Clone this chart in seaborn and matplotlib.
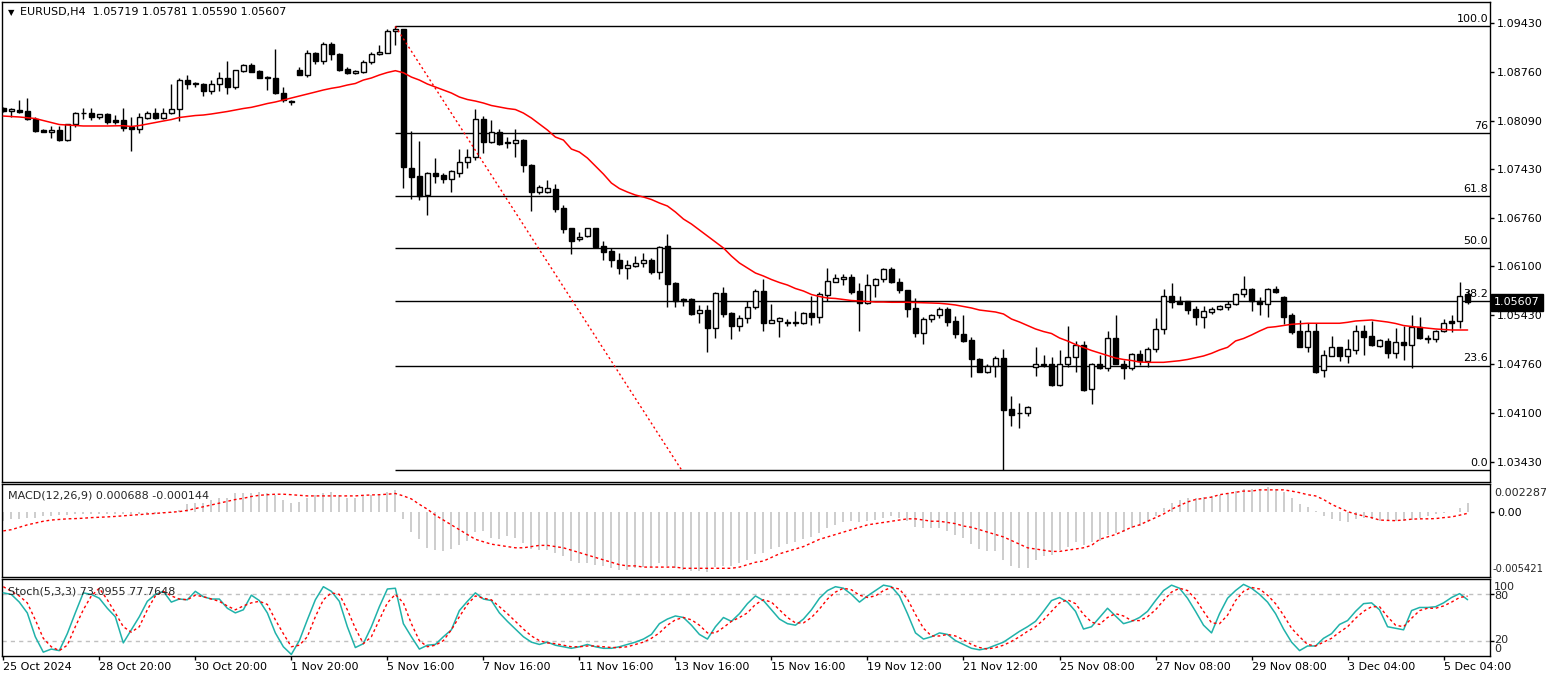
import numpy as np
import pandas as pd
import matplotlib
matplotlib.use("Agg")
import matplotlib.pyplot as plt
import matplotlib.transforms as mtransforms
import seaborn as sns

# ---------------- data (EURUSD H4) ----------------
open_ = [1.0826,1.0822,1.0824,1.0822,1.0812,1.0796,1.0793,1.0796,1.0782,1.0804,
         1.0819,1.0819,1.0814,1.0818,1.0810,1.0810,1.0800,1.0797,1.0813,1.0819,
         1.0813,1.0819,1.0825,1.0865,1.0861,1.0859,1.0849,1.0859,1.0868,1.0855,
         1.0877,1.0885,1.0877,1.0869,1.0868,1.0847,1.0836,1.0879,1.0872,1.0901,
         1.0891,1.0914,1.0900,1.0880,1.0874,1.0875,1.0889,1.0900,1.0902,1.0931,
         1.0934,1.0745,1.0733,1.0707,1.0737,1.0735,1.0730,1.0738,1.0752,1.0759,
         1.0811,1.0780,1.0794,1.0780,1.0779,1.0783,1.0749,1.0712,1.0711,1.0716,
         1.0689,1.0662,1.0647,1.0651,1.0662,1.0638,1.0631,1.0619,1.0607,1.0611,
         1.0615,1.0619,1.0602,1.0638,1.0587,1.0565,1.0565,1.0546,1.0550,1.0526,
         1.0573,1.0546,1.0528,1.0539,1.0555,1.0576,1.0533,1.0535,1.0534,1.0534,
         1.0532,1.0546,1.0541,1.0571,1.0589,1.0593,1.0595,1.0576,1.0560,1.0585,
         1.0592,1.0606,1.0588,1.0577,1.0553,1.0519,1.0538,1.0544,1.0551,1.0535,
         1.0518,1.0509,1.0483,1.0466,1.0473,1.0484,1.0415,1.0409,1.0409,1.0472,
         1.0477,1.0476,1.0448,1.0477,1.0486,1.0503,1.0442,1.0476,1.0471,1.0512,
         1.0477,1.0471,1.0490,1.0480,1.0497,1.0524,1.0569,1.0562,1.0562,1.0551,
         1.0540,1.0548,1.0551,1.0555,1.0558,1.0572,1.0579,1.0562,1.0559,1.0579,
         1.0568,1.0543,1.0522,1.0500,1.0522,1.0468,1.0488,1.0499,1.0488,1.0496,
         1.0522,1.0515,1.0501,1.0508,1.0491,1.0507,1.0503,1.0527,1.0512,1.0511,
         1.0522,1.0535,1.0535,1.05719]
high_ = [1.0828,1.0827,1.0837,1.0840,1.0814,1.0797,1.0802,1.0802,1.0805,1.0821,
         1.0827,1.0826,1.0818,1.0819,1.0817,1.0827,1.0814,1.0819,1.0822,1.0827,
         1.0827,1.0859,1.0867,1.0871,1.0862,1.0860,1.0865,1.0876,1.0890,1.0879,
         1.0887,1.0888,1.0878,1.0870,1.0907,1.0855,1.0838,1.0883,1.0905,1.0903,
         1.0916,1.0916,1.0901,1.0882,1.0878,1.0892,1.0903,1.0913,1.0935,1.0938,
         1.0935,1.0795,1.0781,1.0739,1.0758,1.0738,1.0742,1.0770,1.0771,1.0825,
         1.0816,1.0810,1.0797,1.0787,1.0798,1.0784,1.0750,1.0721,1.0728,1.0722,
         1.0694,1.0663,1.0657,1.0663,1.0663,1.0645,1.0635,1.0628,1.0618,1.0624,
         1.0628,1.0621,1.0638,1.0654,1.0588,1.0567,1.0567,1.0557,1.0557,1.0575,
         1.0581,1.0548,1.0544,1.0562,1.0579,1.0592,1.0559,1.0541,1.0538,1.0549,
         1.0548,1.0570,1.0575,1.0607,1.0600,1.0600,1.0600,1.0587,1.0599,1.0594,
         1.0608,1.0609,1.0594,1.0578,1.0566,1.0540,1.0545,1.0554,1.0554,1.0542,
         1.0543,1.0513,1.0484,1.0476,1.0487,1.0497,1.0433,1.0423,1.0419,1.0500,
         1.0489,1.0486,1.0496,1.0528,1.0508,1.0508,1.0478,1.0489,1.0521,1.0543,
         1.0482,1.0491,1.0496,1.0499,1.0539,1.0579,1.0587,1.0569,1.0563,1.0556,
         1.0556,1.0555,1.0557,1.0562,1.0574,1.0597,1.0580,1.0568,1.0580,1.0583,
         1.0569,1.0546,1.0537,1.0532,1.0532,1.0496,1.0515,1.0500,1.0511,1.0530,
         1.0530,1.0535,1.0511,1.0512,1.0525,1.0528,1.0543,1.0541,1.0516,1.0523,
         1.0538,1.0544,1.0589,1.05781]
low_ = [1.0821,1.0814,1.0820,1.0810,1.0793,1.0793,1.0786,1.0781,1.0781,1.0800,
        1.0811,1.0810,1.0811,1.0805,1.0804,1.0795,1.0768,1.0792,1.0812,1.0812,
        1.0812,1.0818,1.0808,1.0853,1.0855,1.0843,1.0846,1.0850,1.0846,1.0852,
        1.0876,1.0875,1.0867,1.0851,1.0846,1.0834,1.0831,1.0871,1.0869,1.0887,
        1.0887,1.0892,1.0877,1.0873,1.0873,1.0874,1.0887,1.0899,1.0901,1.0912,
        1.0717,1.0702,1.0700,1.0680,1.0724,1.0724,1.0711,1.0732,1.0745,1.0755,
        1.0765,1.0779,1.0776,1.0772,1.0760,1.0739,1.0686,1.0709,1.0710,1.0684,
        1.0655,1.0627,1.0644,1.0650,1.0636,1.0619,1.0609,1.0599,1.0593,1.0609,
        1.0609,1.0599,1.0592,1.0554,1.0555,1.0556,1.0543,1.0532,1.0493,1.0512,
        1.0541,1.0510,1.0522,1.0532,1.0551,1.0521,1.0532,1.0514,1.0528,1.0528,
        1.0531,1.0530,1.0533,1.0563,1.0588,1.0584,1.0572,1.0521,1.0558,1.0568,
        1.0589,1.0587,1.0574,1.0540,1.0514,1.0504,1.0534,1.0539,1.0528,1.0512,
        1.0507,1.0459,1.0465,1.0464,1.0459,1.0331,1.0392,1.0389,1.0406,1.0460,
        1.0472,1.0447,1.0446,1.0472,1.0465,1.0440,1.0422,1.0470,1.0467,1.0476,
        1.0456,1.0468,1.0475,1.0472,1.0493,1.0518,1.0553,1.0558,1.0545,1.0530,
        1.0525,1.0545,1.0550,1.0550,1.0557,1.0568,1.0549,1.0543,1.0540,1.0574,
        1.0531,1.0518,1.0499,1.0493,1.0464,1.0458,1.0487,1.0480,1.0478,1.0490,
        1.0489,1.0501,1.0500,1.0485,1.0484,1.0482,1.0471,1.0511,1.0505,1.0506,
        1.0520,1.0520,1.0525,1.05590]
close_ = [1.0822,1.0825,1.0821,1.0811,1.0795,1.0794,1.0796,1.0782,1.0804,1.0819,
          1.0820,1.0814,1.0818,1.0807,1.0807,1.0799,1.0797,1.0814,1.0819,1.0813,
          1.0819,1.0825,1.0865,1.0859,1.0859,1.0849,1.0859,1.0868,1.0855,1.0878,
          1.0885,1.0876,1.0868,1.0868,1.0847,1.0837,1.0834,1.0872,1.0901,1.0891,
          1.0914,1.0900,1.0878,1.0874,1.0877,1.0889,1.0900,1.0903,1.0931,1.0934,
          1.0746,1.0732,1.0706,1.0738,1.0734,1.0730,1.0740,1.0752,1.0760,1.0811,
          1.0780,1.0794,1.0777,1.0778,1.0783,1.0748,1.0712,1.0718,1.0717,1.0688,
          1.0661,1.0645,1.0650,1.0662,1.0637,1.0630,1.0618,1.0607,1.0612,1.0615,
          1.0619,1.0602,1.0636,1.0586,1.0563,1.0563,1.0545,1.0550,1.0526,1.0573,
          1.0545,1.0528,1.0539,1.0555,1.0576,1.0533,1.0536,1.0539,1.0532,1.0532,
          1.0546,1.0540,1.0572,1.0590,1.0594,1.0596,1.0575,1.0560,1.0585,1.0592,
          1.0606,1.0588,1.0577,1.0552,1.0519,1.0538,1.0544,1.0551,1.0534,1.0517,
          1.0508,1.0483,1.0466,1.0474,1.0484,1.0414,1.0407,1.0410,1.0417,1.0477,
          1.0475,1.0448,1.0477,1.0486,1.0503,1.0441,1.0476,1.0471,1.0512,1.0477,
          1.0471,1.0490,1.0480,1.0497,1.0524,1.0569,1.0561,1.0559,1.0550,1.0540,
          1.0549,1.0551,1.0556,1.0558,1.0572,1.0579,1.0562,1.0559,1.0579,1.0575,
          1.0541,1.0520,1.0500,1.0522,1.0466,1.0489,1.0500,1.0488,1.0497,1.0522,
          1.0514,1.0503,1.0509,1.0492,1.0507,1.0503,1.0527,1.0512,1.0511,1.0521,
          1.0533,1.0533,1.0570,1.05607]
ma_ = [1.08154,1.08147,1.08141,1.08131,1.08120,1.08093,1.08065,1.08038,1.08031,1.08024,
       1.08018,1.08018,1.08018,1.08018,1.08020,1.08022,1.08011,1.08024,1.08045,1.08065,
       1.08086,1.08106,1.08134,1.08147,1.08161,1.08168,1.08182,1.08199,1.08216,1.08236,
       1.08257,1.08273,1.08298,1.08325,1.08346,1.08373,1.08400,1.08428,1.08455,1.08482,
       1.08510,1.08533,1.08551,1.08578,1.08599,1.08646,1.08674,1.08715,1.08749,1.08774,
       1.08746,1.08687,1.08646,1.08592,1.08551,1.08510,1.08469,1.08414,1.08380,1.08359,
       1.08332,1.08298,1.08277,1.08257,1.08243,1.08195,1.08127,1.08045,1.07963,1.07867,
       1.07826,1.07703,1.07662,1.07580,1.07471,1.07361,1.07238,1.07163,1.07115,1.07074,
       1.07047,1.07013,1.06965,1.06924,1.06842,1.06746,1.06678,1.06596,1.06514,1.06432,
       1.06350,1.06240,1.06145,1.06076,1.06008,1.05967,1.05919,1.05878,1.05844,1.05796,
       1.05762,1.05714,1.05687,1.05666,1.05660,1.05646,1.05632,1.05625,1.05619,1.05612,
       1.05612,1.05608,1.05608,1.05608,1.05605,1.05601,1.05598,1.05594,1.05584,1.05571,
       1.05550,1.05530,1.05502,1.05489,1.05475,1.05448,1.05379,1.05338,1.05290,1.05243,
       1.05208,1.05181,1.05120,1.05079,1.05031,1.04990,1.04949,1.04915,1.04880,1.04846,
       1.04826,1.04812,1.04791,1.04787,1.04787,1.04787,1.04798,1.04809,1.04826,1.04850,
       1.04874,1.04910,1.04956,1.04992,1.05079,1.05113,1.05161,1.05215,1.05263,1.05274,
       1.05290,1.05307,1.05314,1.05321,1.05321,1.05321,1.05321,1.05321,1.05334,1.05352,
       1.05359,1.05366,1.05352,1.05338,1.05318,1.05290,1.05277,1.05266,1.05256,1.05243,
       1.05236,1.05229,1.05229,1.05229]
macd_main = [-0.0008,-0.0006,-0.0006,-0.0005,-0.0005,-0.0004,-0.0004,-0.0003,-0.0003,-0.0002,
             -0.0002,-0.0002,-0.0002,-0.0002,-0.0002,-0.0002,-0.0002,-0.0002,-0.0002,-0.0002,
             -0.0001,-0.0001,0.0001,0.0006,0.00075,0.00075,0.0010,0.00115,0.00115,0.0015,
             0.0015,0.00155,0.0016,0.00155,0.0014,0.0010,0.00075,0.0008,0.00115,0.0014,
             0.00155,0.0016,0.0014,0.00115,0.00115,0.0013,0.0014,0.0014,0.0016,0.00177,
             -0.0006,-0.0017,-0.0023,-0.0030,-0.0032,-0.0033,-0.0031,-0.0028,-0.0024,-0.0017,
             -0.0016,-0.0022,-0.0023,-0.0020,-0.0022,-0.0026,-0.0031,-0.0032,-0.0032,-0.0034,
             -0.0037,-0.0041,-0.0043,-0.0043,-0.0044,-0.0045,-0.0047,-0.0048,-0.0048,-0.0047,
             -0.0046,-0.0046,-0.0043,-0.0045,-0.0047,-0.0048,-0.0049,-0.0049,-0.0050,-0.0046,
             -0.0045,-0.0045,-0.0043,-0.0040,-0.0035,-0.0034,-0.0031,-0.0029,-0.0027,-0.0025,
             -0.0023,-0.0021,-0.0018,-0.0014,-0.0011,-0.0009,-0.0008,-0.0009,-0.0008,-0.0007,
             -0.0005,-0.0004,-0.0005,-0.0008,-0.0013,-0.0014,-0.0014,-0.0014,-0.0016,-0.0019,
             -0.0022,-0.0027,-0.0031,-0.0033,-0.0033,-0.0040,-0.0045,-0.0047,-0.0047,-0.0040,
             -0.0037,-0.0036,-0.0032,-0.0029,-0.0025,-0.0028,-0.0025,-0.0024,-0.0019,-0.0018,
             -0.0017,-0.0014,-0.0012,-0.0009,-0.0004,0.0003,0.0007,0.0010,0.0011,0.0011,
             0.0012,0.0013,0.0014,0.0015,0.0017,0.0019,0.0019,0.0019,0.0020,0.0019,
             0.0016,0.0011,0.0006,0.0004,0.00005,-0.00036,-0.00058,-0.00077,-0.00086,-0.00058,
             -0.0005,-0.00058,-0.00077,-0.00077,-0.00077,-0.00077,-0.0007,-0.0005,-0.00036,-0.00022,
             -0.00014,-0.00002,0.00033,0.000688]
macd_signal = [-0.0016,-0.0015,-0.0013,-0.0011,-0.00095,-0.0008,-0.0007,-0.00065,-0.0006,-0.00058,
               -0.00055,-0.0005,-0.00047,-0.00044,-0.0004,-0.00035,-0.0003,-0.00025,-0.0002,-0.00015,
               -0.0001,-0.00005,0.0,0.0001,0.00025,0.0004,0.00055,0.0007,0.00085,0.0010,
               0.0011,0.00125,0.00135,0.0014,0.00144,0.00144,0.0014,0.00135,0.0013,0.0013,
               0.0013,0.0013,0.0013,0.0013,0.0013,0.00135,0.00138,0.0014,0.00144,0.0015,
               0.0013,0.00105,0.0006,0.0002,-0.0003,-0.0007,-0.0011,-0.0015,-0.0019,-0.0023,
               -0.0025,-0.0027,-0.0028,-0.0029,-0.0030,-0.0030,-0.0029,-0.0028,-0.0028,-0.0029,
               -0.0030,-0.0032,-0.0034,-0.0036,-0.0038,-0.0040,-0.0042,-0.0044,-0.0045,-0.0045,
               -0.0046,-0.0046,-0.0046,-0.0046,-0.0046,-0.0047,-0.0047,-0.0047,-0.0047,-0.0047,
               -0.0047,-0.0047,-0.0046,-0.0044,-0.0042,-0.0041,-0.0038,-0.0035,-0.0033,-0.0031,
               -0.0029,-0.0026,-0.0023,-0.0021,-0.0019,-0.0017,-0.0015,-0.0013,-0.0011,-0.0010,
               -0.0009,-0.0008,-0.0007,-0.0006,-0.0006,-0.0007,-0.0008,-0.0008,-0.0009,-0.0010,
               -0.0012,-0.0013,-0.0015,-0.0017,-0.0019,-0.0021,-0.0024,-0.0027,-0.0030,-0.0031,
               -0.0032,-0.0033,-0.0033,-0.0032,-0.0031,-0.0030,-0.0028,-0.0023,-0.0021,-0.0019,
               -0.0016,-0.0013,-0.0011,-0.0008,-0.0005,-0.0002,0.0002,0.0005,0.0008,0.0010,
               0.0011,0.0012,0.0014,0.0015,0.0016,0.0017,0.0017,0.0018,0.0018,0.0018,
               0.0018,0.0017,0.00157,0.0014,0.0013,0.0010,0.0006,0.0003,0.0,-0.0002,
               -0.00036,-0.0005,-0.0007,-0.00073,-0.00075,-0.0007,-0.00063,-0.0006,-0.0006,-0.00058,
               -0.0005,-0.00044,-0.0003,-0.000144]
stoch_k = [82,80,70,56,25,5,9,7,29,56,82,80,75,62,51,17,34,51,71,80,
           84,70,74,73,84,77,74,74,62,56,60,79,72,56,30,12,2,20,47,73,
           90,84,71,38,11,16,38,64,87,88,42,25,9,14,15,25,34,59,71,82,
           74,72,56,45,35,25,18,15,18,14,12,10,12,15,12,10,10,12,15,18,
           22,28,42,48,52,50,40,28,22,38,50,45,55,68,78,72,60,48,42,40,
           48,60,75,85,90,88,80,70,78,85,92,90,78,55,30,22,25,30,28,20,
           15,10,8,10,14,18,25,32,38,45,58,72,76,70,58,35,38,50,62,52,
           42,45,50,58,72,85,92,88,75,58,40,30,55,75,85,93,88,80,70,55,
           35,18,7,13,13,23,29,41,46,58,68,69,60,38,36,34,59,63,63,64,
           69,76,81,73.0955]
stoch_d = [90,84,78,69,47,23,12,7,14,38,60,78,88,73,56,38,31,38,60,78,
           84,78,74,73,79,77,74,71,65,60,65,69,71,67,47,29,12,14,25,51,
           73,82,80,60,36,16,25,47,69,80,69,42,20,12,14,20,34,51,67,78,
           75,73,64,55,45,35,26,20,17,16,14,12,12,13,13,12,11,11,12,15,
           18,23,30,40,47,50,47,40,30,30,37,45,50,56,67,73,70,60,50,43,
           43,50,61,74,83,88,86,79,76,78,85,89,87,74,54,36,26,26,28,26,
           21,15,11,9,11,14,19,25,32,38,47,58,69,73,68,54,44,41,50,55,
           52,46,46,51,60,72,83,88,85,74,58,43,42,53,72,84,89,87,79,68,
           53,36,25,15,13,18,23,31,38,49,58,64,64,51,40,38,49,59,62,62,
           65,70,76,77.7648]
date_labels = ["25 Oct 2024", "28 Oct 20:00", "30 Oct 20:00", "1 Nov 20:00", "5 Nov 16:00",
               "7 Nov 16:00", "11 Nov 16:00", "13 Nov 16:00", "15 Nov 16:00", "19 Nov 12:00",
               "21 Nov 12:00", "25 Nov 08:00", "27 Nov 08:00", "29 Nov 08:00", "3 Dec 04:00",
               "5 Dec 04:00"]
price_ticks = [1.09430, 1.08760, 1.08090, 1.07430, 1.06760, 1.06100, 1.05430, 1.04760, 1.04100, 1.03430]
fib_labels = ["0.0", "23.6", "38.2", "50.0", "61.8", "76", "100.0"]
fib_ratios = [0.0, 23.6, 38.2, 50.0, 61.8, 76.0, 100.0]
fib_high, fib_low = 1.0938, 1.0331
fib_start_bar, fib_end_bar = 49, 84.8
macd_top, macd_bottom = 0.002287, -0.005421

# ---------------- figure ----------------
sns.set_theme(style="white")
plt.rcParams['font.family'] = ['DejaVu Sans']
W, H = 1546, 682
fig = plt.figure(figsize=(W / 100, H / 100), dpi=100)
fig.patch.set_facecolor('white')


def rect(top, bottom, left=2, right=1490):
    return [left / W, 1 - bottom / H, (right - left) / W, (bottom - top) / H]


ax = fig.add_axes(rect(2, 482))
axm = fig.add_axes(rect(484, 577))
axs = fig.add_axes(rect(579, 656))

n = len(close_)
df = pd.DataFrame(dict(x=np.arange(n), o=open_, h=high_, l=low_, c=close_, ma=ma_,
                       macd=macd_main, sig=macd_signal, k=stoch_k, d=stoch_d))
XL = (-0.16, 185.8)
FS = 8

for a in (ax, axm, axs):
    a.set_xlim(*XL)
    a.set_facecolor('white')
    for s in a.spines.values():
        s.set_color('black')
        s.set_linewidth(1)
    a.grid(False)

# ---- candles
up = df.c >= df.o
body_lo = np.minimum(df.o, df.c)
body_h = np.maximum((df.c - df.o).abs(), 0.00011)
ax.vlines(df.x, df.l, df.h, color='black', lw=1, zorder=3)
ax.bar(df.x[up], body_h[up], bottom=body_lo[up], width=0.62, color='white',
       edgecolor='black', linewidth=1, zorder=4)
ax.bar(df.x[~up], body_h[~up], bottom=body_lo[~up], width=0.62, color='black',
       edgecolor='black', linewidth=1, zorder=4)

# ---- moving average
sns.lineplot(data=df, x='x', y='ma', ax=ax, color='#ff0000', linewidth=1.1, zorder=5, legend=False)

# ---- fibonacci
fib_prices = [fib_low + r / 100 * (fib_high - fib_low) for r in fib_ratios]
ax.hlines(fib_prices, fib_start_bar, XL[1], color='black', lw=1, zorder=2)
trans = mtransforms.blended_transform_factory(ax.transAxes, ax.transData)
for lab, p in zip(fib_labels, fib_prices):
    ax.annotate(lab, xy=(0.9987, p), xycoords=trans, xytext=(0, 1.5), textcoords='offset points',
                ha='right', va='bottom', fontsize=FS, color='black', zorder=1)
trend = pd.DataFrame(dict(x=[fib_start_bar, fib_end_bar], y=[fib_high, fib_low]))
sns.lineplot(data=trend, x='x', y='y', ax=ax, color='#ff0000', linewidth=1,
             linestyle=(0, (1.5, 2.0)), zorder=5, legend=False)

ax.set_ylim(1.03151, 1.09713)
ax.yaxis.tick_right()
ax.set_yticks(price_ticks)
ax.set_yticklabels([f"{p:.5f}" for p in price_ticks])
ax.tick_params(axis='y', which='both', right=True, left=False, length=3, width=1,
               pad=2, labelsize=FS, colors='black', direction='out')
ax.set_xticks([])
ax.set_xlabel('')
ax.set_ylabel('')

ax.annotate("1.05607", xy=(1.0, close_[-1]), xycoords=trans, xytext=(3, 0),
            textcoords='offset points', ha='left', va='center', fontsize=FS, color='white',
            bbox=dict(boxstyle='square,pad=0.3', fc='black', ec='black'), annotation_clip=False)

fig.text(8 / W, 1 - 12.5 / H, "\u25BC", fontsize=6, va='center', ha='left', color='black')
fig.text(20 / W, 1 - 12.5 / H, "EURUSD,H4  1.05719 1.05781 1.05590 1.05607",
         fontsize=FS, va='center', ha='left', color='black')

# ---- MACD
axm.vlines(df.x, 0, df.macd, color='#c0c0c0', lw=1.1, zorder=2)
sns.lineplot(data=df, x='x', y='sig', ax=axm, color='#ff0000', linewidth=1,
             linestyle=(0, (2, 2)), zorder=3, legend=False)
axm.set_ylim(macd_bottom, macd_top)
axm.set_xticks([])
axm.yaxis.tick_right()
axm.set_yticks([0.0])
axm.set_yticklabels(["0.00"])
axm.tick_params(axis='y', right=True, left=False, length=3, width=1, pad=2,
                labelsize=FS, colors='black')
axm.set_xlabel('')
axm.set_ylabel('')
fig.text(1494 / W, 1 - 493 / H, f"{macd_top:.6f}", fontsize=FS, va='center', ha='left')
fig.text(1493 / W, 1 - 569 / H, f"{macd_bottom:.6f}", fontsize=7.2, va='center', ha='left')
fig.text(8 / W, 1 - 495.5 / H, "MACD(12,26,9) 0.000688 -0.000144", fontsize=FS,
         va='center', ha='left')

# ---- Stochastic
axs.axhline(80, color='#c0c0c0', lw=1, linestyle=(0, (3, 3)), zorder=1)
axs.axhline(20, color='#c0c0c0', lw=1, linestyle=(0, (3, 3)), zorder=1)
sns.lineplot(data=df, x='x', y='k', ax=axs, color='#20b2aa', linewidth=1.1, zorder=3, legend=False)
sns.lineplot(data=df, x='x', y='d', ax=axs, color='#ff0000', linewidth=1,
             linestyle=(0, (2, 2)), zorder=4, legend=False)
axs.set_ylim(0, 100)
axs.yaxis.tick_right()
axs.set_yticks([20, 80])
axs.set_yticklabels(['', ''])
axs.tick_params(axis='y', right=True, left=False, length=3, width=1, pad=2,
                labelsize=FS, colors='black')
for lab, yy in (("100", 587), ("80", 596), ("20", 640), ("0", 648.5)):
    fig.text(1494 / W, 1 - yy / H, lab, fontsize=FS, va='center', ha='left')
fig.text(8 / W, 1 - 591 / H, "Stoch(5,3,3) 73.0955 77.7648", fontsize=FS, va='center', ha='left')

tick_pos = [12 * i for i in range(len(date_labels))]
axs.set_xticks(tick_pos)
axs.set_xticklabels(date_labels)
axs.tick_params(axis='x', bottom=True, length=3, width=1, pad=1.5, labelsize=FS, colors='black')
for t in axs.get_xticklabels():
    t.set_ha('left')
axs.set_xlabel('')
axs.set_ylabel('')

fig.savefig("out.png", dpi=100, facecolor='white')
